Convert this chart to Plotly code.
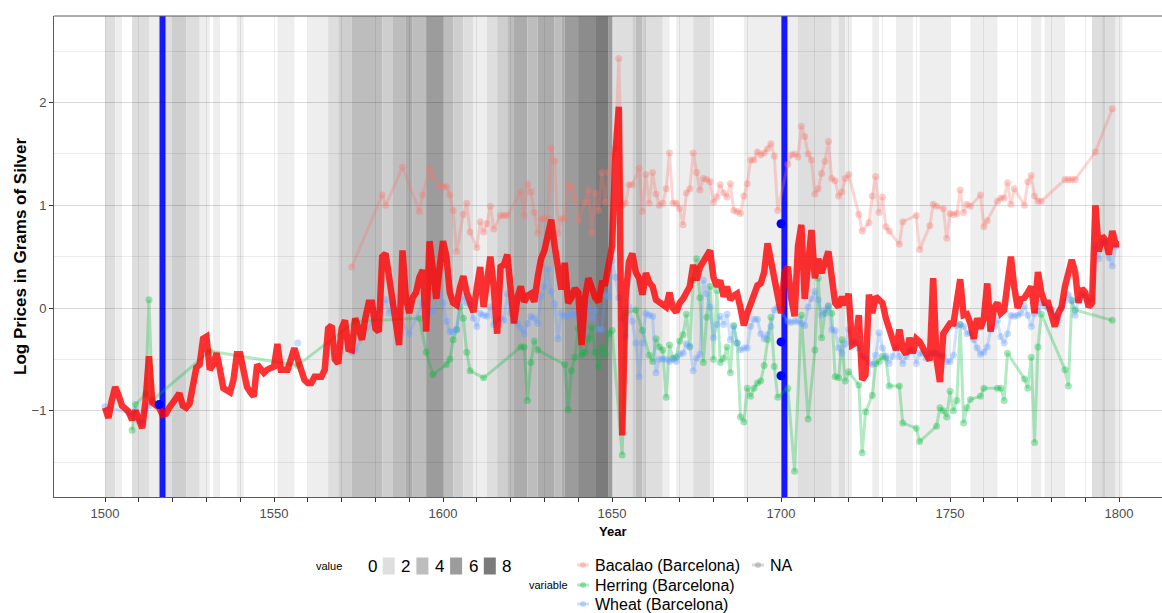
import plotly.graph_objects as go

# ---- data -----------------------------------------------------------------
years = list(range(1500, 1801))

red_vals = [
    -0.97, -1.07, -0.90, -0.77, -0.85, -0.95, -0.98, -1.01, -1.09, -1.00,
    -1.08, -1.17, -0.90, -0.47, -0.92, -0.95, -0.97, -1.04, -1.03, -0.97,
    -0.92, -0.88, -0.83, -0.95, -0.97, -0.93, -0.75, -0.58, -0.55, -0.30,
    -0.28, -0.60, -0.55, -0.44, -0.60, -0.78, -0.80, -0.82, -0.70, -0.45,
    -0.45, -0.60, -0.77, -0.82, -0.86, -0.55, -0.60, -0.63, -0.60, -0.58,
    -0.57, -0.35, -0.60, -0.60, -0.60, -0.50, -0.39, -0.50, -0.62, -0.70,
    -0.73, -0.73, -0.67, -0.67, -0.67, -0.60, -0.20, -0.17, -0.50, -0.54,
    -0.20, -0.12, -0.40, -0.41, -0.10, -0.20, -0.31, -0.10, 0.05, 0.05,
    -0.20, -0.23, 0.50, 0.53, 0.30, 0.09, -0.20, -0.36, 0.56, 0.10,
    -0.05, 0.10, 0.15, 0.30, 0.37, -0.23, 0.65, 0.30, 0.09, 0.40,
    0.65, 0.50, 0.15, 0.05, 0.03, 0.20, 0.31, 0.15, 0.05, -0.04,
    0.20, 0.40, 0.01, 0.30, 0.50, 0.20, -0.25, 0.40, 0.42, 0.52,
    0.10, -0.15, 0.10, 0.21, 0.06, 0.12, 0.14, 0.06, 0.30, 0.48,
    0.56, 0.75, 0.86, 0.61, 0.35, 0.18, 0.44, 0.05, 0.10, 0.19,
    0.15, -0.36, 0.10, 0.29, 0.20, 0.10, 0.06, 0.24, 0.24, 0.40,
    0.60, 1.50, 1.96, -1.24, 0.10, 0.45, 0.53, 0.35, 0.29, 0.13,
    0.34, 0.25, 0.21, 0.08, 0.05, 0.03, 0.01, 0.15, 0.00, -0.04,
    0.05, 0.09, 0.15, 0.21, 0.42, 0.27, 0.40, 0.45, 0.50, 0.56,
    0.30, 0.21, 0.27, 0.11, 0.21, 0.08, 0.12, 0.14, 0.00, -0.17,
    -0.05, 0.05, 0.15, 0.22, 0.24, 0.35, 0.63, 0.45, 0.27, 0.10,
    -0.05, 0.34, 0.40, 0.10, -0.08, 0.60, 0.81, 0.09, 0.40, 0.76,
    0.29, 0.48, 0.34, 0.45, 0.55, 0.30, 0.05, 0.01, 0.11, 0.03,
    0.14, -0.36, -0.34, -0.07, -0.70, -0.65, 0.13, -0.05, 0.11, 0.08,
    0.05, -0.10, -0.20, -0.29, -0.41, -0.21, -0.40, -0.45, -0.29, -0.44,
    -0.30, -0.33, -0.39, -0.45, -0.51, 0.29, -0.50, -0.72, -0.25, -0.20,
    -0.15, -0.15, 0.05, 0.28, -0.07, -0.06, -0.15, -0.30, -0.10, -0.20,
    -0.10, 0.24, -0.23, 0.00, 0.05, -0.05, -0.02, 0.30, 0.50, 0.20,
    0.00, 0.09, 0.10, 0.15, 0.21, -0.05, 0.35, 0.15, 0.05, 0.05,
    -0.10, -0.18, -0.05, 0.01, 0.21, 0.35, 0.47, 0.35, 0.05, 0.19,
    0.15, 0.01, 0.05, 1.00, 0.55, 0.70, 0.66, 0.52, 0.75, 0.62,
    0.62,
]

# background shading value per year (0-8)
band_vals = [
    2, 2, 2, 1, 1, 0, 0, 0, 2, 2,
    2, 2, 2, 1, 1, 1, 1, 2, 2, 2,
    3, 3, 3, 3, 2, 2, 2, 2, 1, 1,
    1, 0, 1, 1, 0, 0, 0, 0, 0, 1,
    1, 0, 0, 0, 0, 0, 0, 0, 0, 0,
    0, 1, 1, 1, 1, 1, 0, 0, 0, 0,
    1, 1, 1, 1, 1, 1, 2, 2, 2, 3,
    3, 3, 3, 4, 4, 4, 4, 4, 4, 4,
    4, 4, 3, 3, 3, 4, 4, 4, 4, 5,
    5, 4, 4, 4, 4, 6, 6, 6, 6, 6,
    4, 4, 4, 3, 3, 3, 2, 2, 2, 1,
    1, 1, 1, 2, 2, 2, 3, 3, 3, 4,
    4, 5, 5, 5, 5, 4, 4, 4, 5, 5,
    5, 5, 5, 4, 4, 5, 6, 6, 6, 6,
    7, 7, 7, 7, 7, 8, 8, 8, 8, 6,
    2, 2, 2, 2, 2, 2, 3, 4, 4, 3,
    2, 2, 2, 2, 2, 1, 1, 0, 0, 1,
    1, 1, 1, 1, 2, 2, 2, 2, 2, 1,
    0, 0, 0, 0, 0, 0, 0, 0, 0, 1,
    1, 1, 1, 1, 1, 1, 1, 1, 1, 1,
    1, 1, 1, 1, 1, 2, 2, 2, 2, 2,
    2, 2, 2, 2, 2, 1, 1, 2, 2, 1,
    1, 0, 0, 0, 0, 0, 0, 1, 1, 0,
    0, 0, 0, 0, 1, 1, 1, 1, 1, 0,
    0, 1, 1, 1, 1, 1, 1, 1, 1, 1,
    0, 0, 0, 0, 0, 0, 1, 1, 1, 1,
    1, 1, 1, 1, 0, 0, 0, 0, 0, 0,
    0, 0, 0, 0, 1, 1, 1, 0, 1, 1,
    1, 1, 1, 1, 0, 0, 0, 0, 0, 0,
    0, 0, 2, 2, 2, 3, 2, 2, 2, 1,
    1,
]

bacalao_year = [
    1573, 1582, 1583, 1588, 1593, 1594, 1596, 1597, 1599, 1600, 1601, 1602, 1603, 1604,
    1606, 1607, 1608, 1610, 1611, 1612, 1613, 1614, 1615, 1617, 1618, 1619, 1623, 1624,
    1625, 1626, 1627, 1628, 1629, 1630, 1631, 1632, 1633, 1634, 1635, 1636, 1637, 1638,
    1639, 1640, 1642, 1643, 1644, 1645, 1646, 1647, 1648, 1649, 1650, 1651, 1652, 1653,
    1654, 1655, 1656, 1658, 1659, 1660, 1661, 1662, 1663, 1664, 1665, 1666, 1667, 1668,
    1669, 1670, 1671, 1672, 1673, 1674, 1675, 1676, 1677, 1678, 1679, 1680, 1681, 1682,
    1683, 1684, 1685, 1686, 1687, 1688, 1689, 1690, 1691, 1692, 1693, 1694, 1695, 1696,
    1697, 1698, 1699, 1702, 1703, 1704, 1705, 1706, 1707, 1708, 1709, 1710, 1711, 1712,
    1713, 1714, 1715, 1716, 1717, 1718, 1719, 1720, 1723, 1724, 1726, 1727, 1728, 1729,
    1730, 1731, 1732, 1735, 1736, 1740, 1741, 1744, 1745, 1746, 1748, 1749, 1750, 1751,
    1752, 1753, 1754, 1755, 1756, 1759, 1760, 1761, 1764, 1765, 1766, 1767, 1768, 1769,
    1772, 1773, 1774, 1775, 1776, 1777, 1784, 1785, 1786, 1787, 1793, 1798,
]
bacalao_val = [
    0.40, 1.10, 1.00, 1.37, 0.94, 1.10, 1.36, 1.28, 1.18, 1.18, 1.18, 1.10, 0.95, 0.55,
    0.91, 1.02, 0.74, 0.59, 0.84, 0.74, 0.82, 0.99, 0.77, 0.90, 0.90, 0.90, 1.13, 0.90,
    1.21, 1.13, 0.93, 0.73, 0.87, 0.87, 0.87, 1.56, 1.43, 0.73, 0.87, 0.87, 1.20, 1.17,
    1.06, 0.85, 1.03, 1.15, 0.73, 1.12, 0.95, 1.32, 1.03, 1.32, 1.48, 1.55, 2.43, 1.00,
    1.02, 1.20, 1.20, 1.36, 0.94, 1.30, 1.02, 1.32, 1.11, 1.00, 1.02, 1.16, 1.51, 1.02,
    1.02, 0.97, 0.81, 1.12, 1.16, 1.51, 1.32, 1.15, 1.26, 1.25, 1.23, 1.03, 1.08, 1.20,
    1.12, 1.08, 1.21, 0.95, 0.94, 0.92, 1.09, 1.21, 1.44, 1.44, 1.52, 1.49, 1.51, 1.55,
    1.60, 1.48, 0.95, 1.40, 1.49, 1.50, 1.47, 1.77, 1.67, 1.50, 1.44, 1.11, 1.16, 1.31,
    1.43, 1.62, 1.26, 1.24, 1.09, 1.13, 1.26, 1.30, 0.91, 0.75, 0.83, 1.09, 1.28, 0.93,
    1.08, 0.79, 0.75, 0.62, 0.84, 0.90, 0.57, 0.80, 1.01, 0.99, 0.97, 0.68, 0.92, 0.91,
    0.92, 1.15, 0.93, 1.01, 0.99, 1.10, 0.79, 0.85, 1.04, 1.07, 1.07, 1.22, 1.01, 1.16,
    1.00, 1.23, 1.29, 1.09, 1.04, 1.04, 1.25, 1.25, 1.25, 1.25, 1.52, 1.94,
]

herring_year = [
    1508, 1509, 1512, 1513, 1514, 1531, 1557, 1574, 1593, 1595, 1597, 1601, 1602, 1603,
    1604, 1605, 1606, 1607, 1608, 1612, 1623, 1624, 1625, 1626, 1627, 1628, 1636, 1637,
    1638, 1639, 1640, 1641, 1642, 1643, 1644, 1645, 1646, 1647, 1648, 1649, 1650, 1653,
    1654, 1657, 1659, 1661, 1662, 1663, 1664, 1665, 1666, 1667, 1668, 1669, 1670, 1671,
    1672, 1673, 1674, 1675, 1676, 1677, 1678, 1679, 1680, 1681, 1682, 1683, 1684, 1685,
    1686, 1687, 1688, 1689, 1690, 1691, 1692, 1693, 1694, 1695, 1696, 1697, 1698, 1699,
    1702, 1704, 1706, 1708, 1710, 1711, 1712, 1713, 1714, 1715, 1716, 1717, 1718, 1719,
    1720, 1723, 1724, 1725, 1727, 1728, 1729, 1730, 1731, 1732, 1735, 1736, 1740, 1741,
    1746, 1747, 1748, 1749, 1750, 1751, 1752, 1753, 1754, 1755, 1756, 1759, 1760, 1764,
    1765, 1766, 1767, 1772, 1773, 1774, 1775, 1776, 1777, 1784, 1785, 1786, 1787, 1798,
]
herring_val = [
    -1.19, -0.94, -0.84, 0.08, -0.90, -0.42, -0.56, -0.13, -0.10, -0.43, -0.65, -0.55, -0.50, -0.31,
    -0.21, 0.01, -0.10, -0.43, -0.61, -0.68, -0.38, -0.38, -0.90, -0.53, -0.32, -0.41, -0.55, -0.99,
    -0.61, -0.48, -0.20, -0.46, -0.43, -0.30, -0.19, -0.43, -0.57, -0.39, -0.45, -0.25, -0.22, -1.43,
    -0.05, -0.02, -0.22, -0.46, -0.52, -0.30, -0.38, -0.41, -0.87, -0.36, -0.49, -0.48, -0.32, -0.26,
    -0.06, -0.38, 0.27, 0.48, 0.10, -0.53, -0.09, 0.21, -0.50, 0.17, -0.53, -0.49, -0.38, -0.63,
    -0.17, -0.34, -1.06, -1.11, -0.78, -0.86, -0.78, -0.73, -0.71, -0.56, -0.31, -0.09, -0.57, -0.87,
    -0.78, -1.59, -0.07, -1.08, -0.41, 0.29, -0.29, -0.05, 0.02, -0.05, -0.67, -0.68, -0.31, -0.71,
    -0.62, -0.75, -1.41, -1.01, -0.85, -0.54, -0.52, -0.47, -0.49, -0.76, -0.76, -1.12, -1.17, -1.30,
    -1.15, -0.97, -1.00, -1.06, -0.81, -1.00, -0.90, -0.16, -1.12, -0.97, -0.89, -0.86, -0.78, -0.78,
    -0.78, -0.90, -0.44, -0.69, -0.78, -0.48, -1.31, -0.38, -0.06, -0.60, -0.76, 0.07, -0.02, -0.12,
]

# None marks a gap in the wheat record
wheat_year = [
    1500, 1507, 1508, 1509, 1510, 1511, 1512, 1513, 1514, 1515, 1516, 1557, 1558,
    1573, 1574, 1583, 1584, 1585, 1590, 1594, 1596, 1597, 1599,
] + list(range(1600, 1700)) + list(range(1702, 1800))
wheat_val = [
    -0.96, -1.02, -1.05, -1.00, -1.10, -1.12, -1.00, -0.95, -0.90, -0.93, None, -0.34, None,
    -0.43, -0.41, 0.08, -0.05, 0.05, -0.25, 0.05, -0.05, -0.03, 0.14,
    # 1600-1699
    0.05, -0.13, -0.23, -0.23, -0.21, 0.05, 0.11, 0.05, 0.03, -0.10,
    -0.18, -0.05, -0.07, -0.08, 0.01, -0.16, -0.12, -0.10, -0.12, 0.14,
    -0.05, -0.12, -0.15, -0.20, -0.25, -0.15, -0.08, -0.10, -0.15, 0.11,
    0.21, 0.38, 0.16, 0.04, -0.30, -0.05, -0.08, -0.08, -0.05, -0.07,
    -0.04, -0.23, -0.05, 0.01, -0.10, -0.02, -0.21, -0.21, 0.13, 0.11,
    0.46, 0.30, 0.10, -0.10, -0.28, 0.01, -0.13, -0.34, -0.67, -0.34,
    -0.05, -0.07, -0.08, -0.63, -0.50, -0.50, -0.50, -0.52, -0.50, -0.52,
    -0.45, -0.44, -0.35, -0.37, -0.61, -0.49, -0.45, 0.27, 0.14, 0.01,
    -0.29, -0.16, -0.08, -0.16, -0.06, -0.31, -0.18, -0.34, -0.41, -0.39,
    -0.39, -0.18, -0.11, -0.11, -0.25, -0.30, -0.26, -0.18, -0.02, 0.01,
    # 1702-1799
    -0.13, -0.14, -0.13, -0.13, -0.15, -0.17, 0.01, 0.09,
    0.16, 0.08, -0.07, -0.02, 0.02, -0.21, -0.22, -0.39, -0.44, -0.35,
    -0.21, -0.34, -0.33, -0.39, -0.47, -0.49, -0.54, -0.55, -0.46, -0.24,
    -0.39, -0.47, -0.54, -0.47, -0.38, -0.47, -0.54, -0.47, -0.41, -0.41,
    -0.54, -0.44, -0.44, -0.49, -0.44, -0.44, -0.44, -0.46, -0.47, -0.52,
    -0.52, -0.46, -0.17, -0.16, -0.18, -0.25, -0.24, -0.31, -0.39, -0.45,
    -0.43, -0.38, -0.21, -0.18, -0.12, -0.28, -0.34, -0.25, -0.07, -0.08,
    -0.07, -0.05, 0.02, -0.07, -0.18, -0.05, -0.03, 0.05, 0.02, 0.00,
    -0.02, -0.08, -0.12, 0.00, 0.07, 0.13, 0.08, -0.07, 0.08, 0.14,
    0.11, 0.06, 0.09, 0.60, 0.48, 0.64, 0.64, 0.49, 0.41, 0.60,
]

event_years = [1517, 1701]
dot_year = [1516, 1700, 1700, 1700]
dot_val = [-0.94, 0.82, -0.33, -0.66]

value_levels = [0, 2, 4, 6, 8]
variable_names = ["Bacalao (Barcelona)", "Herring (Barcelona)", "Wheat (Barcelona)", "NA"]
variable_rgb = ["248,118,109", "0,186,56", "97,156,255", "127,127,127"]

FONT = "Liberation Sans, Arial, sans-serif"
W, H = 1162, 613
L, R, T, B = 54, 0, 16, 116
X_RANGE = [1484.9, 1812.7]
Y_RANGE = [-1.84, 2.843]


def gray(v):
    g = round(255 - 16.5 * v)
    return f"rgb({g},{g},{g})"


def px(xpix):
    return (xpix - L) / (W - L - R)


def py(ypix):
    return (H - B - ypix) / (H - T - B)


def label(text, x, y, size, xanchor="center", **kw):
    return dict(text=text, x=px(x), y=py(y), xref="paper", yref="paper",
                xanchor=xanchor, yanchor="middle", showarrow=False,
                font=dict(size=size, color="black", family=FONT), **kw)


shapes = []
annotations = []

# ── background bands (merge runs of equal value) ─────────────────────────────
start = 0
for i in range(1, len(years) + 1):
    if i == len(years) or band_vals[i] != band_vals[start]:
        if band_vals[start] > 0:
            shapes.append(dict(type="rect", xref="x", yref="paper",
                               x0=years[start], x1=years[i - 1] + 1, y0=0, y1=1,
                               fillcolor=gray(band_vals[start]), line_width=0, layer="below"))
        start = i

# event lines
for ev in event_years:
    shapes.append(dict(type="line", xref="x", yref="paper", x0=ev, x1=ev, y0=0, y1=1,
                       line=dict(color="rgba(0,0,255,0.9)", width=6), layer="between"))

# top border of the panel
shapes.append(dict(type="line", xref="paper", yref="paper", x0=0, x1=1, y0=1, y1=1,
                   line=dict(color="#5a5a5a", width=1)))

fig = go.Figure()

series = [(bacalao_year, bacalao_val, variable_rgb[0]),
          (herring_year, herring_val, variable_rgb[1]),
          (wheat_year, wheat_val, variable_rgb[2])]
for xs, ys, rgb in series:
    fig.add_trace(go.Scatter(
        x=xs, y=ys, mode="lines+markers",
        line=dict(color=f"rgba({rgb},0.3)", width=3),
        marker=dict(color=f"rgba({rgb},0.35)", size=7),
        showlegend=False, hoverinfo="skip"))

fig.add_trace(go.Scatter(
    x=years, y=red_vals, mode="lines",
    line=dict(color="rgba(255,0,0,0.8)", width=6.5),
    showlegend=False))

fig.add_trace(go.Scatter(
    x=dot_year, y=dot_val, mode="markers",
    marker=dict(color="#0000ff", size=9),
    showlegend=False))

# ── hand-built legend (ggplot style, two guides) ─────────────────────────────
LEG_Y = 566
annotations.append(label("value", 329, LEG_Y, 11))
for i, v in enumerate(value_levels):
    kx = 349 + 33.7 * i
    if v > 0:
        shapes.append(dict(type="rect", xref="paper", yref="paper",
                           x0=px(kx), x1=px(kx + 12), y0=py(LEG_Y + 8.5), y1=py(LEG_Y - 8.5),
                           fillcolor=gray(v), line_width=0))
    annotations.append(label(str(v), 372 + 33.7 * i, LEG_Y, 17))

annotations.append(label("variable", 548, 585, 11))
key_pos = [(577, 565), (577, 585), (577, 604), (752, 565)]
for name, rgb, (kx, ky) in zip(variable_names, variable_rgb, key_pos):
    shapes.append(dict(type="line", xref="paper", yref="paper",
                       x0=px(kx), x1=px(kx + 12), y0=py(ky), y1=py(ky),
                       line=dict(color=f"rgba({rgb},0.3)", width=3)))
    shapes.append(dict(type="circle", xref="paper", yref="paper",
                       x0=px(kx + 3), x1=px(kx + 9), y0=py(ky + 3), y1=py(ky - 3),
                       fillcolor=f"rgba({rgb},0.35)", line_width=0))
    annotations.append(label(name, kx + 16, ky, 16, xanchor="left"))

# axis titles
annotations.append(label("<b>Year</b>", 612, 531, 13))
annotations.append(label("<b>Log Prices in Grams of Silver</b>", 20, 256, 17, textangle=-90))

GRID = "rgba(0,0,0,0.075)"
tick_years = list(range(1500, 1801, 10))
fig.update_layout(
    width=W, height=H,
    margin=dict(l=L, r=R, t=T, b=B),
    plot_bgcolor="white", paper_bgcolor="white",
    font=dict(family=FONT),
    shapes=shapes, annotations=annotations,
    showlegend=False,
    xaxis=dict(range=X_RANGE, tickvals=tick_years,
               ticktext=[str(y) if y % 50 == 0 else "" for y in tick_years],
               ticks="outside", ticklen=4, tickcolor="#333333",
               tickfont=dict(size=13, color="#4d4d4d"),
               showgrid=True, gridcolor=GRID, gridwidth=1, zeroline=False,
               showline=True, linecolor="#5a5a5a", linewidth=1),
    yaxis=dict(range=Y_RANGE, tickvals=[-1, 0, 1, 2],
               ticks="outside", ticklen=4, tickcolor="#333333",
               tickfont=dict(size=13, color="#4d4d4d"),
               showgrid=True, gridcolor=GRID, gridwidth=1, zeroline=False,
               minor=dict(dtick=0.5, tick0=0, showgrid=True, gridcolor=GRID, ticks=""),
               showline=True, linecolor="#5a5a5a", linewidth=1),
)

fig.write_html("out.html", config={"displayModeBar": False},
               post_script="document.body.style.margin='0';document.body.style.overflow='hidden';")
